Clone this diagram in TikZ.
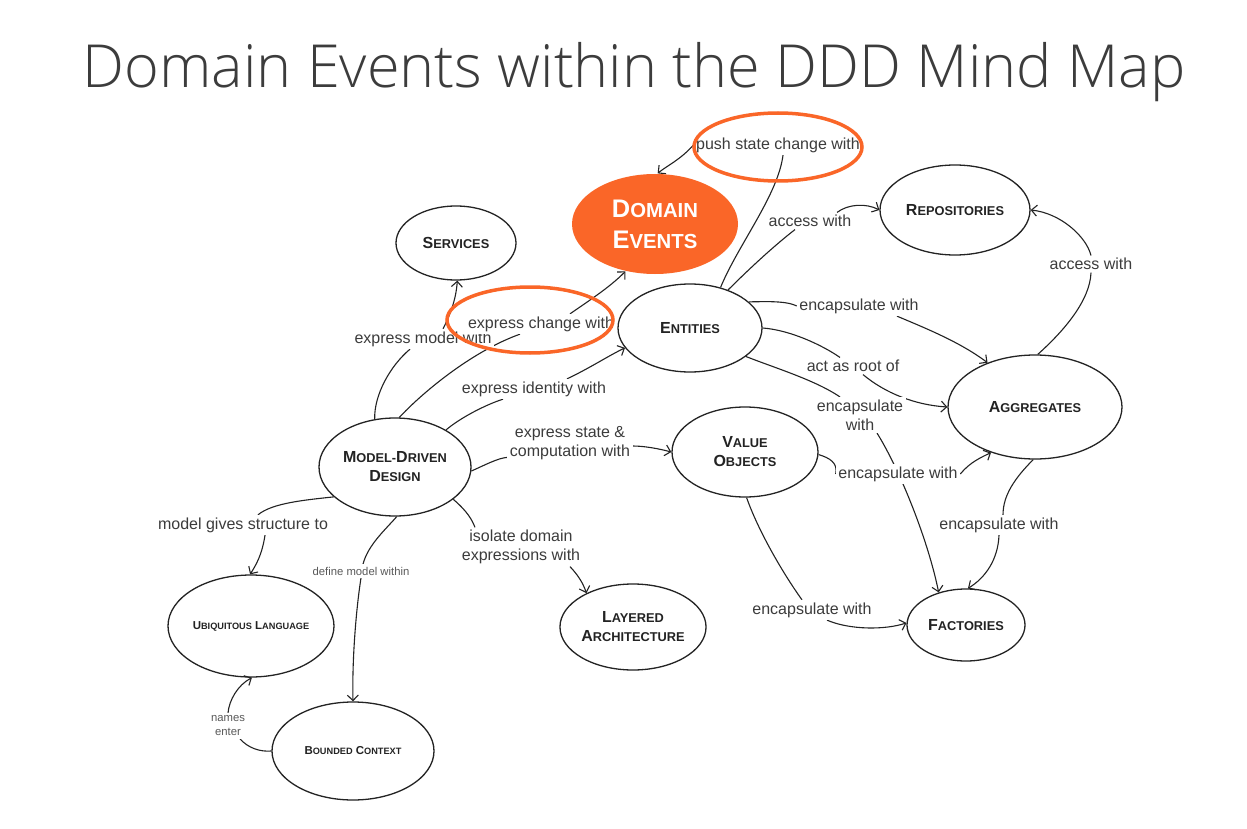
\documentclass[tikz,border=0pt]{standalone}
\usepackage{fontspec}
\usepackage{graphicx}
\setmainfont{Liberation Sans}
\IfFontExistsTF{Open Sans Light}{\newfontfamily\titlefont{Open Sans Light}}{\newfontfamily\titlefont{Open Sans}}
\usetikzlibrary{shapes.geometric,arrows.meta}
\pgfdeclarelayer{back}
\pgfdeclarelayer{bg}
\pgfsetlayers{back,bg,main}
\definecolor{orng}{RGB}{250,102,40}
\definecolor{ink}{RGB}{35,35,35}
\definecolor{lblc}{RGB}{60,60,60}
\definecolor{titlec}{RGB}{60,60,60}
\newcommand\SC[2]{#1\scalebox{0.8}{#2}}
\tikzset{
  ell/.style={ellipse, draw=ink, line width=1.3pt, inner sep=0pt, align=center, text=ink,
    font=\bfseries\fontsize{16}{19}\selectfont},
  smallell/.style={ell, font=\bfseries\fontsize{11.5}{14}\selectfont},
  lbl/.style={fill=white, inner sep=2.5pt, text=lblc, align=center,
    font=\fontsize{16}{19}\selectfont},
  smalllbl/.style={lbl, font=\fontsize{11.3}{14}\selectfont, text=lblc!85},
  conn/.style={draw=ink, line width=1.1pt},
  arr/.style={conn, -{Straight Barb[length=5.5pt,width=11pt]}},
  ring/.style={ellipse, draw=orng, line width=3.5pt, inner sep=0pt}
}
\begin{document}
\begin{tikzpicture}[x=1pt,y=-1pt]
\begin{pgfonlayer}{back}
\fill[white] (0,0) rectangle (1247,829);
\end{pgfonlayer}
\useasboundingbox (0,0) rectangle (1247,829);

% title
\node[font=\titlefont, text=titlec, anchor=base, inner sep=0pt] (title) at (634,88)
  {\resizebox{1102pt}{!}{Domain Events within the DDD Mind Map}};

% concept nodes
\node[ell, fill=orng, draw=none, text=white, font=\bfseries\fontsize{25.4}{31}\selectfont,
  minimum width=166pt, minimum height=100pt] (de) at (655,224) {\SC{D}{OMAIN}\\\SC{E}{VENTS}};
\node[ell, minimum width=120pt, minimum height=74pt] (srv) at (456,243) {\SC{S}{ERVICES}};
\node[ell, minimum width=150pt, minimum height=90pt] (rep) at (955,210) {\SC{R}{EPOSITORIES}};
\node[ell, minimum width=144pt, minimum height=88pt] (ent) at (690,328) {\SC{E}{NTITIES}};
\node[ell, minimum width=174pt, minimum height=104pt] (agg) at (1035,407) {\SC{A}{GGREGATES}};
\node[ell, minimum width=152pt, minimum height=98pt] (mdd) at (395,467) {\SC{M}{ODEL-}\SC{D}{RIVEN}\\\SC{D}{ESIGN}};
\node[ell, minimum width=146pt, minimum height=90pt] (vo) at (745,452) {\SC{V}{ALUE}\\\SC{O}{BJECTS}};
\node[ell, minimum width=144pt, minimum height=86pt] (la) at (633,627) {\SC{L}{AYERED}\\\SC{A}{RCHITECTURE}};
\node[ell, minimum width=118pt, minimum height=72pt] (fac) at (966,625) {\SC{F}{ACTORIES}};
\node[smallell, minimum width=166pt, minimum height=102pt] (ul) at (251,626) {\SC{U}{BIQUITOUS} \SC{L}{ANGUAGE}};
\node[smallell, minimum width=162pt, minimum height=98pt] (bc) at (353,751) {\SC{B}{OUNDED} \SC{C}{ONTEXT}};

% labels
\node[lbl] (push) at (778,145) {push state change with};
\node[lbl] (acc1) at (810,221) {access with};
\node[lbl] (emw) at (423,339) {express model with};
\node[lbl] (ecw) at (541,324) {express change with};
\node[lbl] (eiw) at (534,389) {express identity with};
\node[lbl] (enc1) at (859,306) {encapsulate with};
\node[lbl] (root) at (853,366) {act as root of};
\node[lbl] (enc2) at (860,415) {encapsulate\\with};
\node[lbl] (acc2) at (1091,264) {access with};
\node[lbl] (es) at (570,443) {express state \&\\computation with};
\node[lbl] (enc3) at (898,474) {encapsulate with};
\node[lbl] (enc4) at (999,525) {encapsulate with};
\node[lbl] (enc5) at (812,610) {encapsulate with};
\node[lbl] (iso) at (521,547) {isolate domain\\expressions with};
\node[lbl] (mgs) at (243,525) {model gives structure to};
\node[smalllbl] (dmw) at (361,571) {define model within};
\node[smalllbl] (ne) at (228,726) {names\\enter};

\begin{pgfonlayer}{bg}
% push state change with
\draw[conn] (ent.53) .. controls (738,245) and (778,195) .. ([xshift=5pt]push.south);
\draw[arr] (push.west) .. controls (680,160) and (668,165) .. (de.87);
% access with (entities -> repositories)
\draw[conn] (ent.45) .. controls (750,268) and (775,245) .. ([xshift=-15pt]acc1.south);
\draw[arr] ([xshift=-17pt]acc1.north east) .. controls (848,204) and (866,203) .. (rep.180);
% express model with
\draw[conn] (mdd.113) .. controls (374,395) and (390,366) .. ([xshift=-13pt]emw.south);
\draw[arr] ([xshift=20pt]emw.north) .. controls (450,315) and (456,300) .. (srv.-88);
% express change with
\draw[conn] (mdd.85) .. controls (420,395) and (470,352) .. ([xshift=-21pt]ecw.south);
\draw[arr] ([xshift=29pt]ecw.north) .. controls (590,300) and (610,287) .. (de.238);
% express identity with
\draw[conn] (mdd.36) .. controls (460,418) and (485,405) .. ([xshift=-31pt]eiw.south);
\draw[arr] ([xshift=33pt]eiw.north) .. controls (590,368) and (608,356) .. (ent.197);
% encapsulate with (entities -> aggregates)
\draw[conn] (ent.24) .. controls (760,302) and (785,300) .. (enc1.west);
\draw[arr] ([xshift=38pt]enc1.south) .. controls (925,328) and (960,342) .. (agg.137);
% act as root of
\draw[conn] (ent.0) .. controls (790,330) and (822,345) .. ([xshift=-13pt]root.north);
\draw[arr] ([xshift=10pt]root.south) .. controls (885,393) and (915,405) .. (agg.180);
% encapsulate with (entities -> factories)
\draw[conn] (ent.333) .. controls (775,368) and (815,380) .. ([xshift=-20pt]enc2.north);
\draw[arr] ([xshift=17pt]enc2.south) .. controls (900,470) and (928,540) .. (fac.130);
% access with (aggregates -> repositories)
\draw[conn] (agg.87) .. controls (1065,330) and (1090,300) .. (acc2.south);
\draw[arr] (acc2.north) .. controls (1086,236) and (1060,213) .. (rep.0);
% express state & computation with
\draw[conn] (mdd.-3) .. controls (485,465) and (498,458) .. ([yshift=5pt]es.south west);
\draw[arr] ([yshift=-3pt]es.east) .. controls (645,446) and (660,449) .. (vo.180);
% isolate domain expressions with
\draw[conn] (mdd.331) .. controls (468,512) and (472,520) .. ([xshift=-46pt]iso.north);
\draw[arr] ([xshift=49pt]iso.south) .. controls (578,575) and (583,583) .. (la.144);
% encapsulate with (value objects -> aggregates)
\draw[conn] (vo.-2) .. controls (830,458) and (838,463) .. (enc3.west);
\draw[arr] (enc3.east) .. controls (970,462) and (982,457) .. (agg.226);
% encapsulate with (aggregates -> factories)
\draw[conn] (agg.268) .. controls (1015,478) and (1003,495) .. ([xshift=4pt]enc4.north);
\draw[arr] (enc4.south) .. controls (998,560) and (985,578) .. (fac.87);
% encapsulate with (value objects -> factories)
\draw[conn] (vo.-88) .. controls (758,530) and (782,572) .. ([xshift=-10pt]enc5.north);
\draw[arr] ([xshift=15pt]enc5.south) .. controls (850,630) and (885,630) .. (fac.178);
% model gives structure to
\draw[conn] (mdd.206) .. controls (305,500) and (272,503) .. ([xshift=15pt]mgs.north);
\draw[arr] ([xshift=22pt]mgs.south) .. controls (262,555) and (256,565) .. (ul.91);
% define model within
\draw[conn] (mdd.-88) .. controls (385,530) and (368,545) .. ([xshift=2pt]dmw.north);
\draw[arr] (dmw.south) .. controls (356,610) and (352,660) .. (bc.90);
% names enter
\draw[conn] (bc.180) .. controls (260,752) and (248,748) .. ([xshift=12pt]ne.south);
\draw[arr] (ne.north) .. controls (229,700) and (238,685) .. (ul.-89);
\end{pgfonlayer}

% highlight rings
\node[ring, minimum width=168pt, minimum height=68pt] (ring1) at (778,147) {};
\node[ring, minimum width=166pt, minimum height=66pt] (ring2) at (530,320) {};
\end{tikzpicture}
\end{document}
